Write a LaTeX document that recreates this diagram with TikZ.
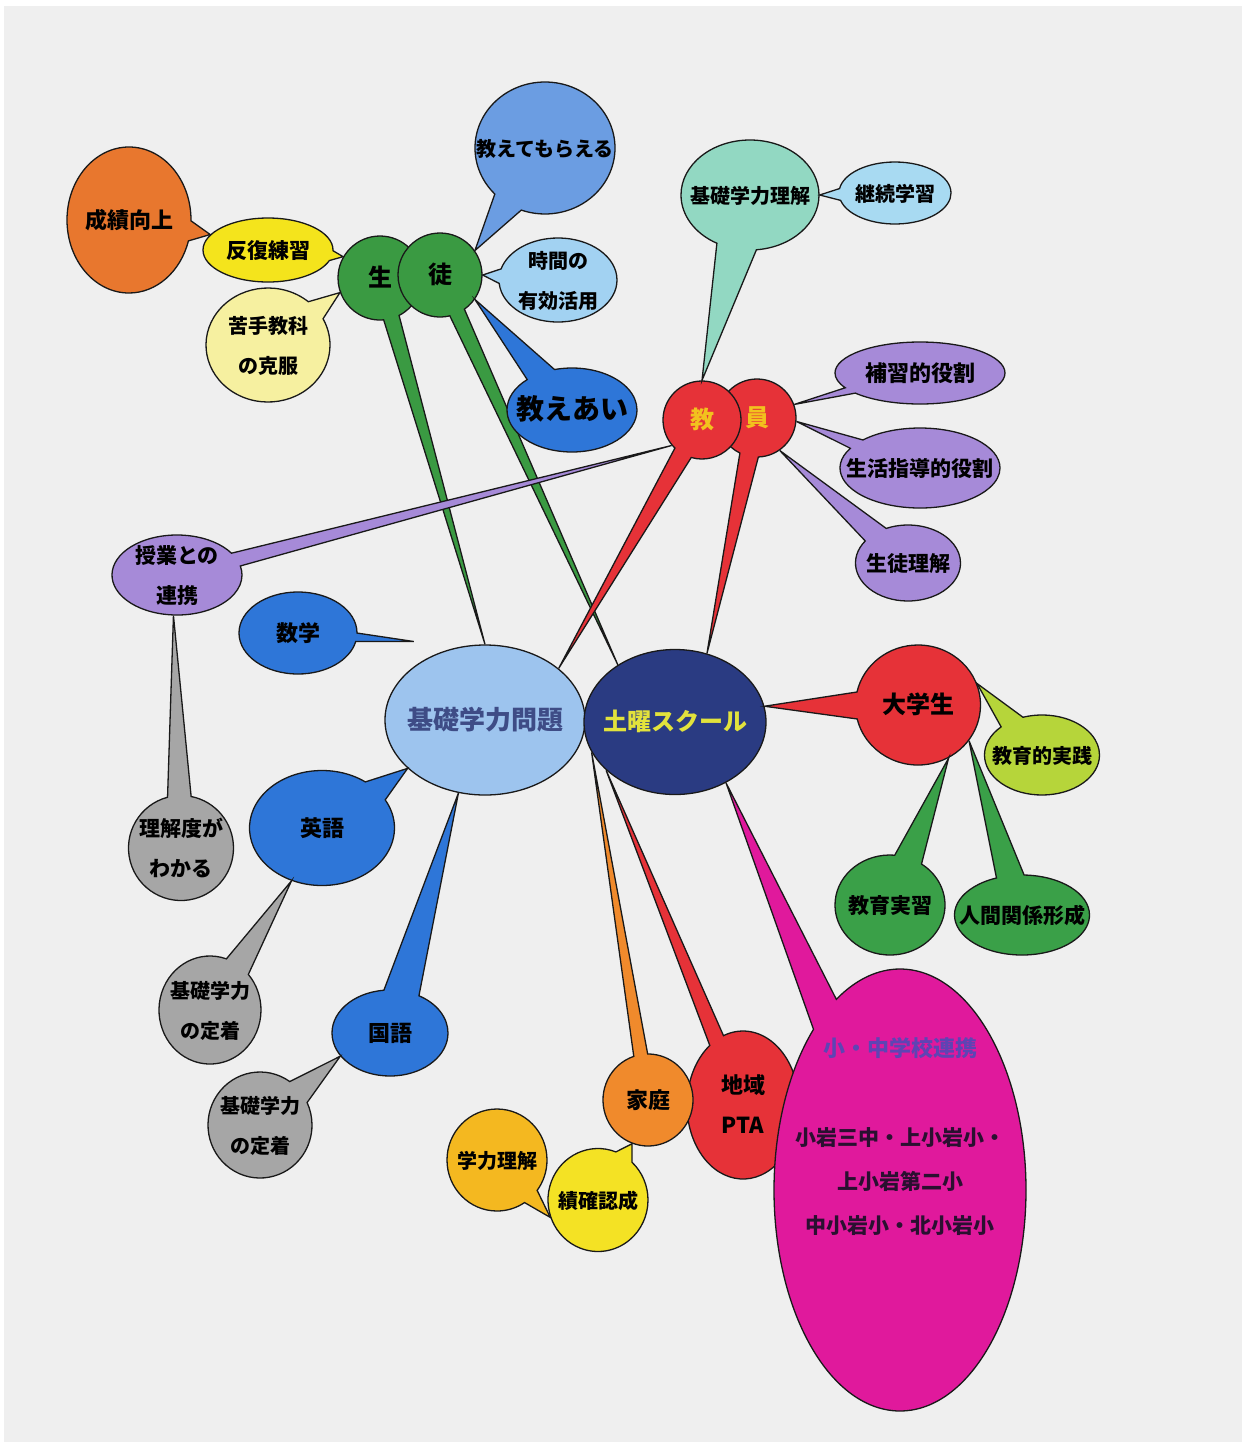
\documentclass[tikz,border=0pt]{standalone}
\usepackage{fontspec}
\newfontfamily\jpfont{Noto Sans CJK JP}
\usetikzlibrary{shapes.geometric, shapes.callouts}

\definecolor{paper}{HTML}{EFEFEF}
\definecolor{corange}{HTML}{E8772E}
\definecolor{cyellow}{HTML}{F4E41C}
\definecolor{cpale}{HTML}{F6F0A0}
\definecolor{cgreen}{HTML}{3A9A42}
\definecolor{cbluea}{HTML}{6B9DE2}
\definecolor{cskya}{HTML}{A2D2F2}
\definecolor{cblue}{HTML}{2E76D8}
\definecolor{cmint}{HTML}{92D8C2}
\definecolor{csky}{HTML}{A8DAF2}
\definecolor{cred}{HTML}{E63238}
\definecolor{cpurple}{HTML}{A68AD8}
\definecolor{cgray}{HTML}{A6A6A6}
\definecolor{ckiso}{HTML}{9DC4EE}
\definecolor{ckisotext}{HTML}{3E4C86}
\definecolor{cnavy}{HTML}{2A3B82}
\definecolor{cdoyotext}{HTML}{E2E23C}
\definecolor{ckyotext}{HTML}{F2C21E}
\definecolor{cleaf}{HTML}{B6D53A}
\definecolor{cgreenb}{HTML}{3AA048}
\definecolor{corangeb}{HTML}{F08A2C}
\definecolor{cmagenta}{HTML}{E0199C}
\definecolor{cmagtext}{HTML}{5E44B4}
\definecolor{cdark}{HTML}{2A1030}
\definecolor{cgold}{HTML}{F4B820}
\definecolor{cyellowb}{HTML}{F4E224}

% text of zero size, so the bubble keeps its own width and height
\newcommand{\bubtext}[1]{\raisebox{-0.28em}[0pt][0pt]{\makebox[0pt]{\begin{tabular}{@{}c@{}}#1\end{tabular}}}}

\tikzset{
  fs/.style={font=\jpfont\bfseries\fontsize{#1}{40}\selectfont},
  bub/.style={ellipse callout, draw=black!90, line width=1.3pt, inner sep=0pt, fs=22},
  hub/.style={ellipse, draw=black!90, line width=1.3pt, inner sep=0pt, fs=26},
  txt/.style={inner sep=0pt, fs=21},
}

\begin{document}
\begin{tikzpicture}[x=1pt, y=-1pt]
\useasboundingbox (0,0) rectangle (1246,1452);
\fill[paper] (4,6) rectangle (1242,1442);

% centre
\node[hub, fill=ckiso, text=ckisotext, minimum width=200pt, minimum height=150pt] (kiso) at (485,720) {\bubtext{基礎学力問題}};
\node[hub, fill=cnavy, text=cdoyotext, minimum width=182pt, minimum height=145pt, fs=24] (doyo) at (675,722) {\bubtext{土曜スクール}};

% seito / kyoin
\node[bub, fill=cgreen, minimum width=84pt, minimum height=84pt, fs=24,
  callout absolute pointer={(kiso.north)}, callout pointer arc=22] (sei) at (380,278) {\bubtext{生}};
\node[bub, fill=cgreen, minimum width=84pt, minimum height=84pt, fs=24,
  callout absolute pointer={(doyo.135)}, callout pointer arc=22] (to) at (440,275) {\bubtext{徒}};
\node[bub, fill=cred, text=ckyotext, minimum width=78pt, minimum height=78pt, fs=24,
  callout absolute pointer={(doyo.65)}, callout pointer arc=28] (in) at (757,418) {\bubtext{員}};
\node[bub, fill=cred, text=ckyotext, minimum width=78pt, minimum height=78pt, fs=24,
  callout absolute pointer={(kiso.35)}, callout pointer arc=28] (kyo) at (702,420) {\bubtext{教}};

% around seito
\node[bub, fill=cyellow, minimum width=130pt, minimum height=64pt, fs=21,
  callout absolute pointer={(sei.150)}, callout pointer arc=18] (hanpuku) at (268,250) {\bubtext{反復練習}};
\node[bub, fill=corange, minimum width=124pt, minimum height=146pt, fs=22,
  callout absolute pointer={(hanpuku.165)}, callout pointer arc=16] (seiseki) at (129,220) {\bubtext{成績向上}};
\node[bub, fill=cpale, minimum width=124pt, minimum height=114pt, fs=20,
  callout absolute pointer={(sei.200)}, callout pointer arc=22] (nigate) at (268,345) {\bubtext{苦手教科\\の克服}};
\node[bub, fill=cbluea, minimum width=140pt, minimum height=132pt, fs=20,
  callout absolute pointer={(to.35)}, callout pointer arc=26] (oshiete) at (545,148) {\bubtext{教えてもらえる}};
\node[bub, fill=cskya, minimum width=118pt, minimum height=84pt, fs=20,
  callout absolute pointer={(to.east)}, callout pointer arc=20] (jikan) at (558,280) {\bubtext{時間の\\有効活用}};
\node[bub, fill=cblue, minimum width=130pt, minimum height=84pt, fs=28,
  callout absolute pointer={(to.-35)}, callout pointer arc=28] (oshieai) at (572,410) {\bubtext{教えあい}};

% around kyoin
\node[bub, fill=cmint, minimum width=138pt, minimum height=110pt, fs=20,
  callout absolute pointer={(kyo.north)}, callout pointer arc=34] (kisorikai) at (750,195) {\bubtext{基礎学力理解}};
\node[bub, fill=csky, minimum width=112pt, minimum height=62pt, fs=20,
  callout absolute pointer={(kisorikai.east)}, callout pointer arc=22] (keizoku) at (895,193) {\bubtext{継続学習}};
\node[bub, fill=cpurple, minimum width=170pt, minimum height=62pt, fs=22,
  callout absolute pointer={(in.20)}, callout pointer arc=12] (hoshu) at (920,373) {\bubtext{補習的役割}};
\node[bub, fill=cpurple, minimum width=160pt, minimum height=80pt, fs=21,
  callout absolute pointer={(in.-5)}, callout pointer arc=15] (seikatsu) at (920,468) {\bubtext{生活指導的役割}};
\node[bub, fill=cpurple, minimum width=105pt, minimum height=76pt, fs=21,
  callout absolute pointer={(in.-55)}, callout pointer arc=30] (seitorikai) at (908,563) {\bubtext{生徒理解}};
\node[bub, fill=cpurple, minimum width=130pt, minimum height=80pt, fs=21,
  callout absolute pointer={(kyo.220)}, callout pointer arc=20] (jugyo) at (177,575) {\bubtext{授業との\\連携}};
\node[bub, fill=cgray, minimum width=105pt, minimum height=105pt, fs=21,
  callout absolute pointer={(jugyo.265)}, callout pointer arc=26] (rikaido) at (181,848) {\bubtext{理解度が\\わかる}};

% kyoka
\node[bub, fill=cblue, minimum width=118pt, minimum height=82pt, fs=22,
  callout absolute pointer={([yshift=25pt]kiso.north west)}, callout pointer arc=12] (sugaku) at (298,633) {\bubtext{数学}};
\node[bub, fill=cblue, minimum width=145pt, minimum height=115pt, fs=22,
  callout absolute pointer={(kiso.212)}, callout pointer arc=24] (eigo) at (322,828) {\bubtext{英語}};
\node[bub, fill=cblue, minimum width=116pt, minimum height=86pt, fs=22,
  callout absolute pointer={(kiso.250)}, callout pointer arc=36] (kokugo) at (390,1033) {\bubtext{国語}};
\node[bub, fill=cgray, minimum width=102pt, minimum height=108pt, fs=20,
  callout absolute pointer={(eigo.240)}, callout pointer arc=30] (teichakua) at (210,1010) {\bubtext{基礎学力\\の定着}};
\node[bub, fill=cgray, minimum width=104pt, minimum height=106pt, fs=20,
  callout absolute pointer={(kokugo.205)}, callout pointer arc=30] (teichakub) at (260,1125) {\bubtext{基礎学力\\の定着}};

% chiiki / katei / renkei
\node[bub, fill=cred, minimum width=112pt, minimum height=148pt, fs=22,
  callout absolute pointer={(doyo.215)}, callout pointer arc=16] (chiiki) at (743,1105) {\bubtext{地域\\PTA}};
\node[bub, fill=corangeb, minimum width=90pt, minimum height=92pt, fs=22,
  callout absolute pointer={(doyo.200)}, callout pointer arc=18] (katei) at (648,1100) {\bubtext{家庭}};
\node[bub, fill=cmagenta, minimum width=252pt, minimum height=442pt,
  callout absolute pointer={(doyo.310)}, callout pointer arc=13] (shochu) at (900,1190) {};
\node[txt, text=cmagtext, fs=22] (shochuhead) at ([yshift=142pt]shochu.center) {\bubtext{小・中学校連携}};
\node[txt, text=cdark, fs=21] (shochubody) at ([yshift=10pt]shochu.center)
  {\fontsize{21}{44}\selectfont\bubtext{小岩三中・上小岩小・\\上小岩第二小\\中小岩小・北小岩小}};
\node[bub, fill=cyellowb, minimum width=100pt, minimum height=103pt, fs=20,
  callout absolute pointer={(katei.250)}, callout pointer arc=22] (kakunin) at (598,1200) {\bubtext{績確認成}};
\node[bub, fill=cgold, minimum width=100pt, minimum height=102pt, fs=20,
  callout absolute pointer={(kakunin.200)}, callout pointer arc=20] (gakuryoku) at (497,1160) {\bubtext{学力理解}};

% daigakusei
\node[bub, fill=cred, minimum width=125pt, minimum height=120pt, fs=24,
  callout absolute pointer={(doyo.10)}, callout pointer arc=26] (daigaku) at (918,705) {\bubtext{大学生}};
\node[bub, fill=cleaf, minimum width=115pt, minimum height=80pt, fs=20,
  callout absolute pointer={(daigaku.20)}, callout pointer arc=26] (jissen) at (1042,755) {\bubtext{教育的実践}};
\node[bub, fill=cgreenb, minimum width=110pt, minimum height=100pt, fs=21,
  callout absolute pointer={(daigaku.-60)}, callout pointer arc=30] (kyoikujisshu) at (890,905) {\bubtext{教育実習}};
\node[bub, fill=cgreenb, minimum width=135pt, minimum height=80pt, fs=21,
  callout absolute pointer={(daigaku.-35)}, callout pointer arc=24] (ningen) at (1022,915) {\bubtext{人間関係形成}};
\end{tikzpicture}
\end{document}
